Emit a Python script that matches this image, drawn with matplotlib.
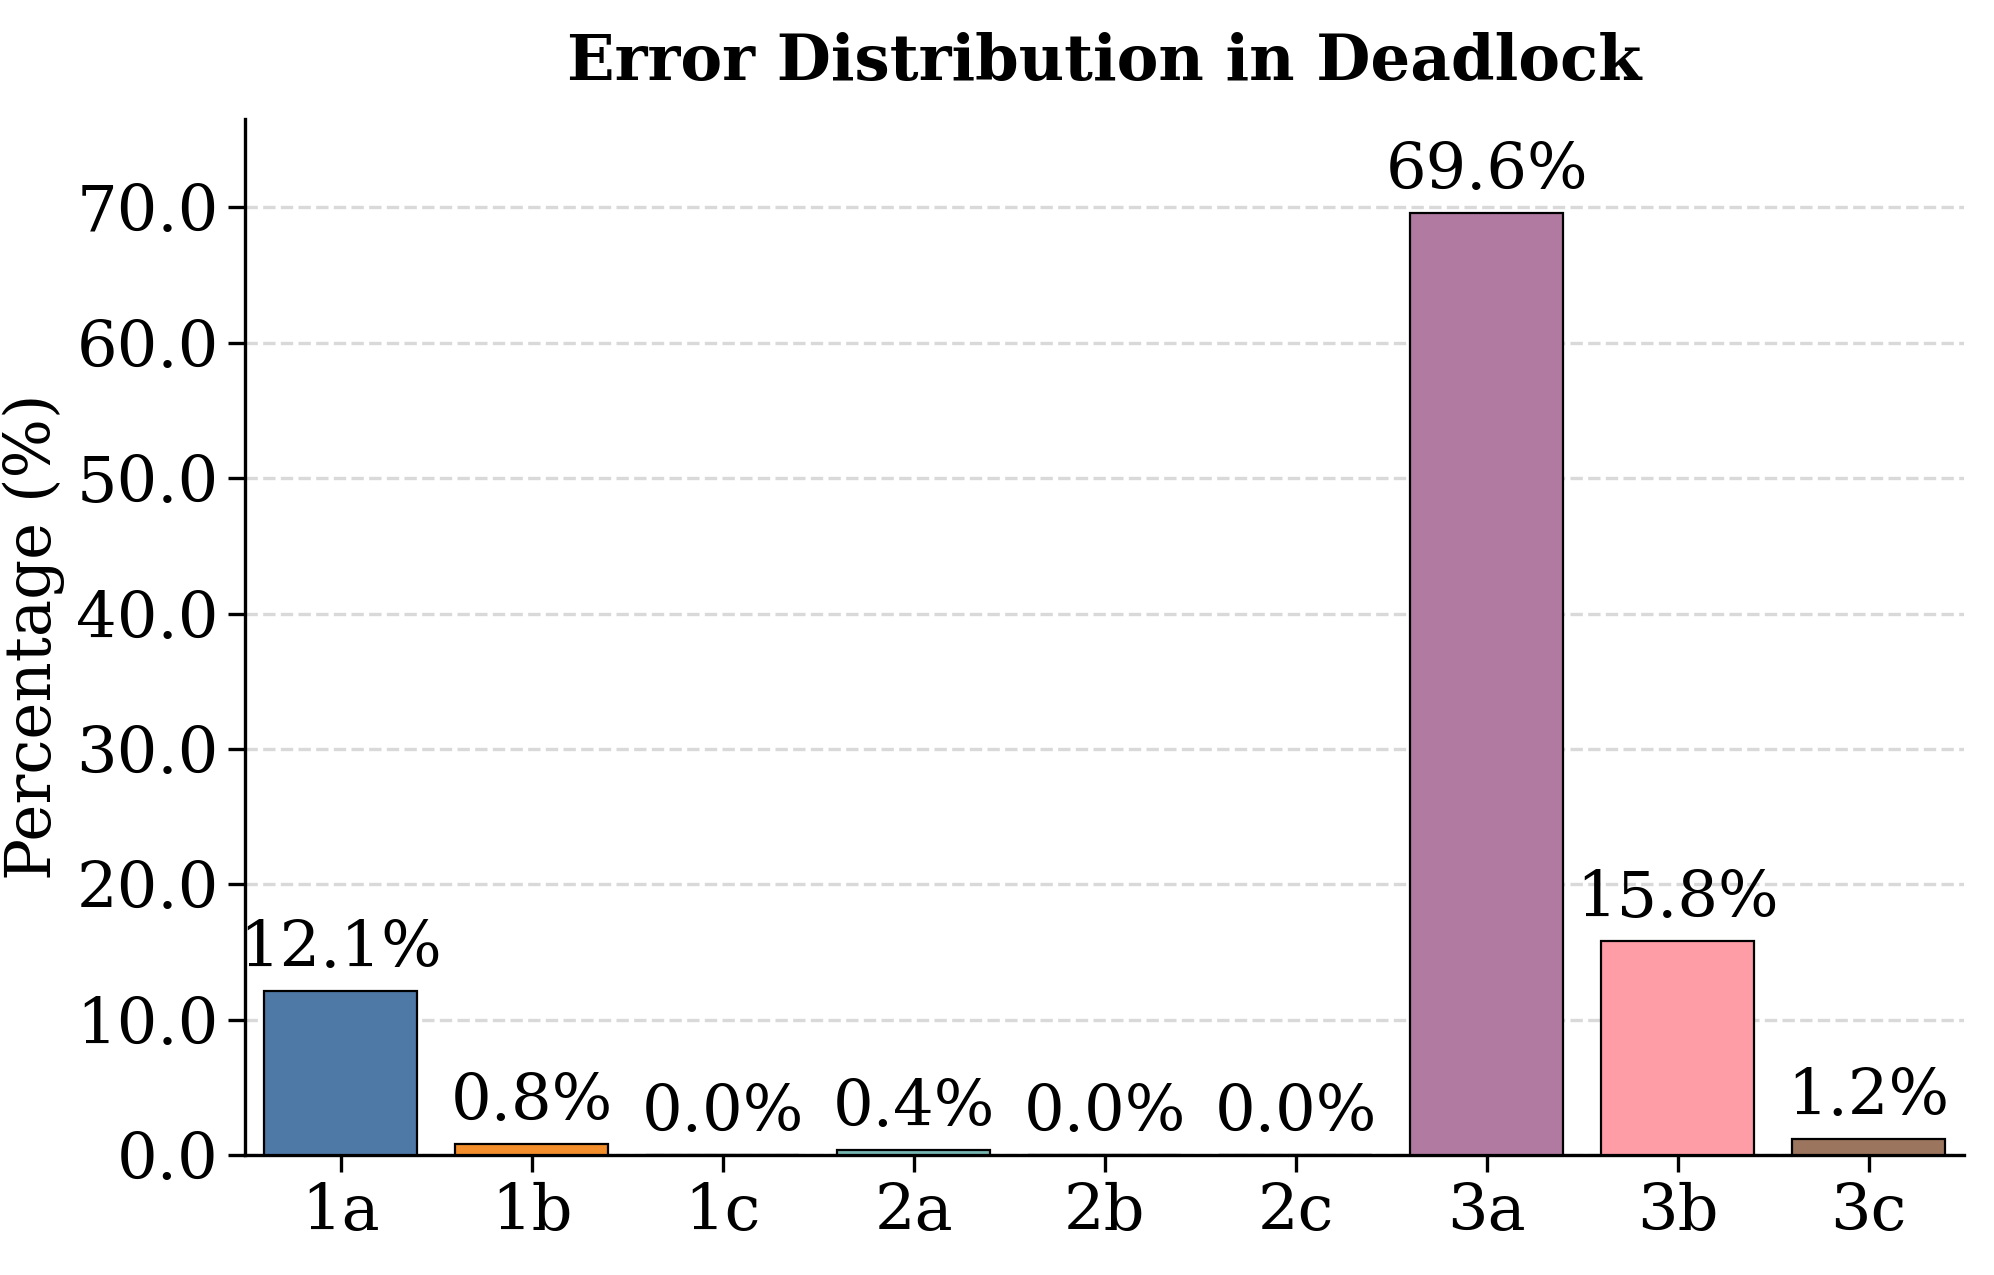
import matplotlib
matplotlib.use("Agg")
import matplotlib.pyplot as plt
from matplotlib.ticker import FormatStrFormatter

CATEGORIES = ["1a", "1b", "1c", "2a", "2b", "2c", "3a", "3b", "3c"]
PERCENTAGES = [12.1, 0.8, 0.0, 0.4, 0.0, 0.0, 69.6, 15.8, 1.2]
COLORS = ["#4e79a7", "#f28e2b", "#e15759", "#76b7b2", "#59a14f",
          "#edc948", "#b07aa1", "#ff9da7", "#9c755f"]

plt.rcParams["font.family"] = ["DejaVu Serif"]

fig = plt.figure(figsize=(9.97, 6.375), dpi=200)
ax = fig.add_axes([0.123, 0.094, 0.862, 0.813])

x = range(len(CATEGORIES))
bars = ax.bar(x, PERCENTAGES, width=0.8, color=COLORS, edgecolor="black", linewidth=0.8, zorder=3)

for bar, val in zip(bars, PERCENTAGES):
    ax.text(bar.get_x() + bar.get_width() / 2, bar.get_height() + 0.8, f"{val:.1f}%",
            ha="center", va="bottom", fontsize=23)

ax.set_xticks(list(x))
ax.set_xticklabels(CATEGORIES)
ax.set_xlim(-0.5, len(CATEGORIES) - 0.5)
ax.set_ylim(0, max(PERCENTAGES) * 1.1)
ax.yaxis.set_major_formatter(FormatStrFormatter("%.1f"))
ax.tick_params(labelsize=23, width=1.2, length=6)
ax.set_ylabel("Percentage (%)", fontsize=22.5)
ax.set_title("Error Distribution in Deadlock", fontsize=22.5, fontweight="bold", pad=14)

ax.grid(axis="y", linestyle="--", color="#d9d9d9", linewidth=1.2, zorder=0)
ax.spines["top"].set_visible(False)
ax.spines["right"].set_visible(False)
ax.spines["left"].set_linewidth(1.2)
ax.spines["bottom"].set_linewidth(1.2)

fig.savefig("out.png", dpi=200)
